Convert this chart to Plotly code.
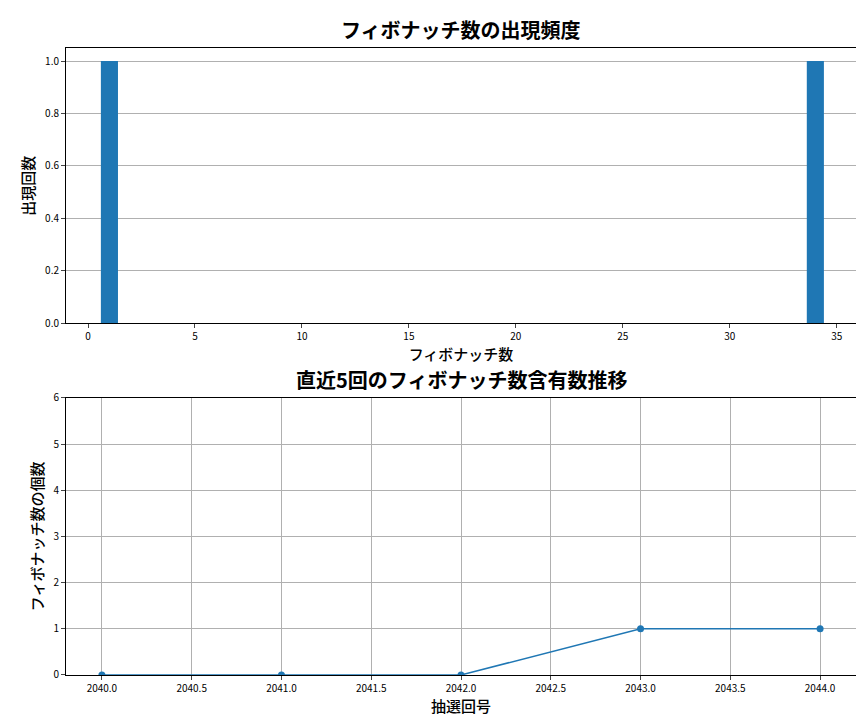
import plotly.graph_objects as go
from plotly.subplots import make_subplots

fib_numbers = [1, 34]
fib_counts = [1, 1]
draws = [2040, 2041, 2042, 2043, 2044]
draw_counts = [0, 0, 0, 1, 1]

C = "#1f77b4"
F = "Noto Sans CJK JP"
fig = make_subplots(rows=2, cols=1)
fig.add_trace(go.Bar(x=fib_numbers, y=fib_counts, width=0.8, marker_color=C, marker_line_width=0), 1, 1)
fig.add_trace(go.Scatter(x=draws, y=draw_counts, mode="lines+markers", line=dict(color=C, width=1.5),
                         marker=dict(size=7, color=C)), 2, 1)
ax = dict(showline=True, linecolor="black", mirror=True, ticks="outside", ticklen=4, automargin=False,
          tickfont=dict(size=10, family=F), zeroline=False)
tf = dict(size=15, family=F, weight=500)
fig.update_layout(
    width=864, height=720, showlegend=False, plot_bgcolor="white", paper_bgcolor="white",
    margin=dict(l=58, r=16, t=40, b=53, autoexpand=False), font=dict(family=F, color="black"),
    xaxis=dict(ax, domain=[0, 1], range=[-1.03, 35.9], dtick=5, showgrid=False,
               title=dict(text="フィボナッチ数", font=tf, standoff=4)),
    yaxis=dict(ax, domain=[0.561, 1], range=[0, 1.05], dtick=0.2, tickformat=".1f",
               showgrid=True, gridcolor="#b0b0b0",
               title=dict(text="出現回数", font=tf, standoff=6)),
    xaxis2=dict(ax, domain=[0, 1], range=[2039.8, 2044.2], dtick=0.5, tickformat=".1f",
                showgrid=True, gridcolor="#b0b0b0",
                title=dict(text="抽選回号", font=tf, standoff=4)),
    yaxis2=dict(ax, domain=[0, 0.442], range=[0, 6], dtick=1, showgrid=True, gridcolor="#b0b0b0",
                title=dict(text="フィボナッチ数の個数", font=tf, standoff=6)),
    annotations=[
        dict(text="<b>フィボナッチ数の出現頻度</b>", x=0.5, y=1, xref="paper", yref="paper",
             yanchor="bottom", yshift=2, showarrow=False, font=dict(size=20, family=F)),
        dict(text="<b>直近5回のフィボナッチ数含有数推移</b>", x=0.5, y=0.442, xref="paper", yref="paper",
             yanchor="bottom", yshift=2, showarrow=False, font=dict(size=20, family=F)),
    ],
)
fig.write_html("out.html")
